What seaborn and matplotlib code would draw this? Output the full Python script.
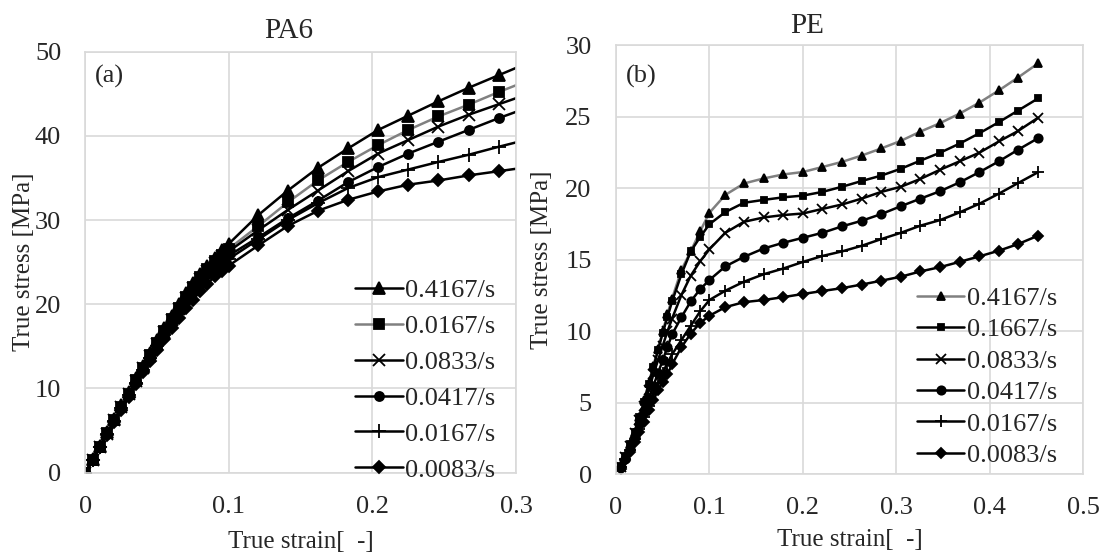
import matplotlib
matplotlib.use("Agg")
import matplotlib.pyplot as plt
import seaborn as sns

# ---- PA6 data (true strain, true stress MPa) ----
pa6_strain = [0, 0.005, 0.01, 0.015, 0.02, 0.025, 0.03, 0.035, 0.04, 0.045,
              0.05, 0.055, 0.06, 0.065, 0.07, 0.075, 0.08, 0.085, 0.09, 0.095,
              0.1, 0.1205, 0.141, 0.162, 0.183, 0.204, 0.225, 0.246, 0.267,
              0.288, 0.309]
pa6_4167 = [0, 1.6, 3.2, 4.8, 6.4, 8.0, 9.6, 11.2, 12.7, 14.2, 15.7, 17.2, 18.6,
            20.0, 21.3, 22.5, 23.6, 24.6, 25.5, 26.4, 27.2, 30.6, 33.5, 36.2,
            38.5, 40.7, 42.4, 44.1, 45.7, 47.2, 48.7]
pa6_0167a = [0, 1.55, 3.1, 4.7, 6.3, 7.85, 9.4, 10.95, 12.45, 13.95, 15.4, 16.85,
             18.25, 19.6, 20.9, 22.1, 23.2, 24.2, 25.1, 25.9, 26.6, 29.3, 32.1,
             34.7, 36.9, 38.9, 40.7, 42.3, 43.7, 45.2, 46.6]
pa6_0833 = [0, 1.55, 3.1, 4.65, 6.2, 7.8, 9.35, 10.9, 12.4, 13.85, 15.3, 16.7,
            18.1, 19.45, 20.75, 21.9, 23.0, 24.0, 24.9, 25.7, 26.3, 28.8, 31.2,
            33.5, 35.8, 37.9, 39.5, 41.1, 42.5, 43.75, 45.0]
pa6_0417 = [0, 1.55, 3.1, 4.65, 6.2, 7.75, 9.3, 10.8, 12.3, 13.75, 15.2, 16.6,
            17.95, 19.25, 20.5, 21.6, 22.65, 23.6, 24.45, 25.2, 25.8, 27.95, 30.2,
            32.3, 34.5, 36.3, 37.9, 39.3, 40.7, 42.1, 43.4]
pa6_0167b = [0, 1.5, 3.05, 4.6, 6.15, 7.7, 9.2, 10.7, 12.2, 13.6, 15.0, 16.4,
             17.75, 19.05, 20.25, 21.35, 22.4, 23.3, 24.1, 24.8, 25.4, 27.7, 30.0,
             32.0, 33.8, 35.1, 36.0, 36.9, 37.75, 38.7, 39.6]
pa6_0083 = [0, 1.5, 3.0, 4.5, 6.0, 7.5, 9.0, 10.5, 11.9, 13.3, 14.6, 15.9, 17.15,
            18.35, 19.5, 20.55, 21.55, 22.45, 23.3, 24.0, 24.6, 27.0, 29.3, 31.1,
            32.4, 33.4, 34.2, 34.7, 35.3, 35.8, 36.3]

# ---- PE data ----
pe_strain = [0.005, 0.01, 0.015, 0.02, 0.025, 0.03, 0.035, 0.04, 0.045, 0.05,
             0.055, 0.06, 0.07, 0.08, 0.09, 0.1, 0.117, 0.137, 0.158, 0.179,
             0.2, 0.221, 0.242, 0.263, 0.284, 0.305, 0.326, 0.347, 0.368, 0.389,
             0.41, 0.43, 0.452]
pe_4167 = [0.6, 1.3, 2.1, 3.0, 4.0, 5.2, 6.4, 7.6, 8.8, 10.0, 11.2, 12.3, 14.3,
           15.6, 17.0, 18.3, 19.55, 20.35, 20.7, 20.98, 21.15, 21.5, 21.86, 22.3,
           22.8, 23.33, 23.98, 24.57, 25.24, 26.0, 26.86, 27.74, 28.75]
pe_1667 = [0.6, 1.3, 2.1, 3.0, 4.0, 5.1, 6.3, 7.5, 8.7, 9.9, 11.0, 12.1, 14.0,
           15.6, 16.6, 17.5, 18.35, 19.0, 19.2, 19.38, 19.5, 19.76, 20.12, 20.52,
           20.9, 21.38, 21.95, 22.5, 23.14, 23.86, 24.64, 25.43, 26.3]
pe_0833 = [0.5, 1.2, 2.0, 2.9, 3.8, 4.8, 5.9, 7.0, 8.0, 9.0, 10.0, 10.9, 12.55,
           13.9, 14.9, 15.75, 16.9, 17.67, 17.97, 18.14, 18.25, 18.57, 18.88,
           19.29, 19.76, 20.12, 20.67, 21.31, 21.9, 22.5, 23.29, 24.0, 24.95]
pe_0417 = [0.5, 1.1, 1.8, 2.6, 3.5, 4.4, 5.3, 6.2, 7.1, 8.0, 8.9, 9.8, 11.0,
           12.1, 12.95, 13.6, 14.55, 15.22, 15.8, 16.2, 16.55, 16.9, 17.35,
           17.74, 18.21, 18.76, 19.29, 19.81, 20.43, 21.14, 21.9, 22.69, 23.52]
pe_0167 = [0.5, 1.1, 1.7, 2.5, 3.2, 4.0, 4.8, 5.6, 6.4, 7.1, 7.8, 8.4, 9.4,
           10.4, 11.4, 12.2, 12.85, 13.48, 14.0, 14.4, 14.86, 15.28, 15.6,
           15.99, 16.46, 16.9, 17.4, 17.79, 18.33, 18.93, 19.64, 20.36, 21.14]
pe_0083 = [0.4, 1.0, 1.6, 2.3, 3.0, 3.7, 4.5, 5.2, 5.9, 6.5, 7.0, 7.7, 8.9,
           9.85, 10.6, 11.1, 11.7, 12.05, 12.2, 12.4, 12.62, 12.83, 13.03,
           13.28, 13.55, 13.83, 14.2, 14.5, 14.87, 15.25, 15.65, 16.1, 16.7]

GRAY = "#808080"
GRID = "#d9d9d9"

# label, values, marker, markersize, line colour
pa6_series = [
    ("0.4167/s", pa6_4167, "^", 8, "black"),
    ("0.0167/s", pa6_0167a, "s", 6.5, GRAY),
    ("0.0833/s", pa6_0833, "x", 8.5, "black"),
    ("0.0417/s", pa6_0417, "o", 6.5, "black"),
    ("0.0167/s", pa6_0167b, "+", 9.5, "black"),
    ("0.0083/s", pa6_0083, "D", 6, "black"),
]
pe_series = [
    ("0.4167/s", pe_4167, "^", 6, GRAY),
    ("0.1667/s", pe_1667, "s", 4.5, "black"),
    ("0.0833/s", pe_0833, "x", 7.5, "black"),
    ("0.0417/s", pe_0417, "o", 6, "black"),
    ("0.0167/s", pe_0167, "+", 8, "black"),
    ("0.0083/s", pe_0083, "D", 5.5, "black"),
]

sns.set_theme(style="white")
plt.rcParams["font.family"] = ["Liberation Serif", "DejaVu Serif"]
FS = 19

fig = plt.figure(figsize=(11.06, 5.53), dpi=100)
ax1 = fig.add_axes([0.0773, 0.1452, 0.3892, 0.7615])
ax2 = fig.add_axes([0.557, 0.142, 0.4222, 0.7758])


def draw(ax, strain, series):
    for label, vals, marker, ms, color in series:
        sns.lineplot(x=strain, y=vals, ax=ax, color=color, lw=1.8,
                     marker=marker, markersize=ms, markerfacecolor="black",
                     markeredgecolor="black", markeredgewidth=1.3,
                     label=label, sort=False, estimator=None)
    ax.grid(True, color=GRID, lw=1.2)
    ax.set_axisbelow(True)
    for sp in ax.spines.values():
        sp.set_color(GRID)
        sp.set_linewidth(1.2)
    ax.tick_params(length=0, labelsize=FS)
    ax.tick_params(axis="x", pad=16.5)
    ax.tick_params(axis="y", pad=17.5)


draw(ax1, pa6_strain, pa6_series)
ax1.set_xlim(0, 0.3)
ax1.set_ylim(0, 50)
ax1.set_xticks([0, 0.1, 0.2, 0.3])
ax1.set_xticklabels(["0", "0.1", "0.2", "0.3"])
ax1.set_yticks(range(0, 51, 10))
ax1.set_title("PA6", fontsize=21, x=0.472, pad=10)
ax1.text(0.022, 0.968, "(a)", transform=ax1.transAxes, ha="left", va="top",
         fontsize=FS)
ax1.set_xlabel("True strain[  -]", fontsize=18)
ax1.set_ylabel("True stress [MPa]", fontsize=18)
ax1.xaxis.set_label_coords(0.5, -0.138)
ax1.yaxis.set_label_coords(-0.118, 0.5)
ax1.legend(loc="lower right", bbox_to_anchor=(0.953, -0.021), frameon=False,
           borderpad=0, borderaxespad=0, handlelength=1.8, handletextpad=0.1,
           labelspacing=0.47, fontsize=FS)

draw(ax2, pe_strain, pe_series)
ax2.set_xlim(0, 0.5)
ax2.set_ylim(0, 30)
ax2.set_xticks([0, 0.1, 0.2, 0.3, 0.4, 0.5])
ax2.set_xticklabels(["0", "0.1", "0.2", "0.3", "0.4", "0.5"])
ax2.set_yticks(range(0, 31, 5))
ax2.set_title("PE", fontsize=21, x=0.41, pad=9)
ax2.text(0.02, 0.955, "(b)", transform=ax2.transAxes, ha="left", va="top",
         fontsize=FS)
ax2.set_xlabel("True strain[  -]", fontsize=18)
ax2.set_ylabel("True stress [MPa]", fontsize=18)
ax2.xaxis.set_label_coords(0.5, -0.127)
ax2.yaxis.set_label_coords(-0.135, 0.5)
ax2.legend(loc="lower right", bbox_to_anchor=(0.945, 0.0175), frameon=False,
           borderpad=0, borderaxespad=0, handlelength=1.8, handletextpad=0.1,
           labelspacing=0.30, fontsize=FS)

fig.savefig("out.png", dpi=100)
